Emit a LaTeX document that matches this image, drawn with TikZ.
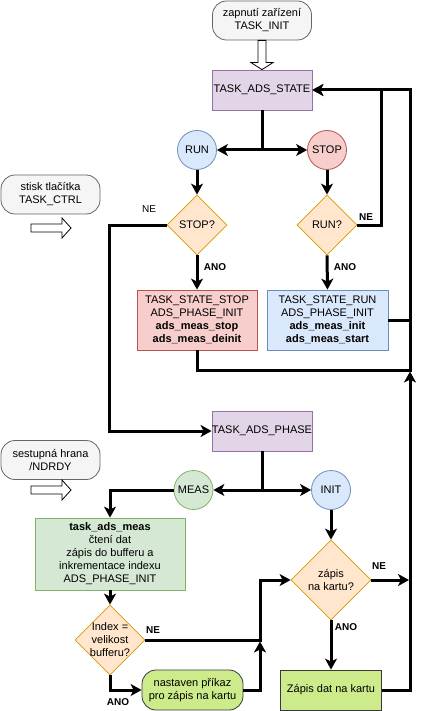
\documentclass[tikz,border=0pt]{standalone}
\usepackage{fontspec}
\setmainfont{Liberation Sans}
\usetikzlibrary{arrows.meta,shapes.geometric,calc}
\definecolor{grayF}{HTML}{F5F5F5}
\definecolor{grayD}{HTML}{666666}
\definecolor{purpF}{HTML}{E1D5E7}
\definecolor{purpD}{HTML}{9673A6}
\definecolor{blueF}{HTML}{DAE8FC}
\definecolor{blueD}{HTML}{6C8EBF}
\definecolor{redF}{HTML}{F8CECC}
\definecolor{redD}{HTML}{B85450}
\definecolor{orF}{HTML}{FFE6CC}
\definecolor{orD}{HTML}{D79B00}
\definecolor{grF}{HTML}{D5E8D4}
\definecolor{grD}{HTML}{82B366}
\definecolor{limeF}{HTML}{CDEB8B}
\definecolor{limeD}{HTML}{36393D}
\begin{document}
\begin{tikzpicture}[x=1pt,y=-1pt,
  every node/.style={font=\fontsize{11}{13}\selectfont, align=center, inner sep=0pt},
  term/.style={rectangle, rounded corners=14pt, draw=grayD, fill=grayF, line width=0.8pt,
               minimum width=99pt, minimum height=39pt},
  phasebox/.style={rectangle, draw=purpD, fill=purpF, line width=0.8pt,
               minimum width=100pt, minimum height=40pt},
  circb/.style={circle, draw=blueD, fill=blueF, line width=0.8pt, minimum size=39pt},
  circr/.style={circle, draw=redD, fill=redF, line width=0.8pt, minimum size=39pt},
  circg/.style={circle, draw=grD, fill=grF, line width=0.8pt, minimum size=39pt},
  dia/.style={diamond, draw=orD, fill=orF, line width=0.8pt},
  limebox/.style={rectangle, draw=limeD, fill=limeF, line width=0.8pt,
               minimum width=101pt, minimum height=40pt},
  conn/.style={line width=3pt, -{Stealth[length=11pt,width=12pt,inset=3pt]}},
  wire/.style={line width=3pt},
  lbl/.style={font=\fontsize{10}{12}\selectfont\bfseries},
  lblr/.style={font=\fontsize{10}{12}\selectfont},
  hollow/.style={draw, fill=white, line width=0.8pt}
]
\fill[white] (0,0) rectangle (420,711);
\useasboundingbox (0,0) rectangle (420,711);

% nodes
\node[term] (init) at (262,20.5) {zapnutí zařízení\\TASK\_INIT};
\node[phasebox] (adsstate) at (262,90) {TASK\_ADS\_STATE};
\node[circb] (run) at (197,150) {RUN};
\node[circr] (stop) at (327,150) {STOP};
\node[dia, minimum width=60pt, minimum height=60pt, label={center:STOP?}] (qstop) at (197,225) {};
\node[dia, minimum width=60pt, minimum height=60pt, label={center:RUN?}] (qrun) at (327,225) {};
\node[rectangle, draw=redD, fill=redF, line width=0.8pt, minimum width=120pt, minimum height=60pt]
  (stopbox) at (197,320) {TASK\_STATE\_STOP\\ADS\_PHASE\_INIT\\\textbf{ads\_meas\_stop}\\\textbf{ads\_meas\_deinit}};
\node[rectangle, draw=blueD, fill=blueF, line width=0.8pt, minimum width=121pt, minimum height=60pt]
  (runbox) at (327.5,320) {TASK\_STATE\_RUN\\ADS\_PHASE\_INIT\\\textbf{ads\_meas\_init}\\\textbf{ads\_meas\_start}};
\node[term] (ctrl) at (50.5,194.5) {stisk tlačítka\\TASK\_CTRL};
\node[term] (ndrdy) at (50.5,460) {sestupná hrana\\/NDRDY};
\node[phasebox] (phase) at (262,431) {TASK\_ADS\_PHASE};
\node[circg] (meas) at (193.5,490) {MEAS};
\node[circb] (initc) at (331,490) {INIT};
\node[rectangle, draw=grD, fill=grF, line width=0.8pt, minimum width=150pt, minimum height=72pt]
  (measbox) at (110,554) {\textbf{task\_ads\_meas}\\čtení dat\\zápis do bufferu a\\inkrementace indexu\\ADS\_PHASE\_INIT};
\node[dia, minimum width=70pt, minimum height=70pt, label={center:Index =\\velikost\\bufferu?}] (qidx) at (110,640) {};
\node[dia, minimum width=80pt, minimum height=80pt, label={center:zápis\\na kartu?}] (qcard) at (331,580) {};
\node[limebox, rounded corners=14pt] (cmd) at (192.5,690) {nastaven příkaz\\pro zápis na kartu};
\node[limebox] (write) at (331,690) {Zápis dat na kartu};

% labels
\node[lblr] (lne1) at (149,209) {NE};
\node[lbl] (lne2) at (366,217) {NE};
\node[lbl] (lano1) at (215,267) {ANO};
\node[lbl] (lano2) at (345,267) {ANO};
\node[lbl] (lne3) at (153,630) {NE};
\node[lbl] (lano3) at (118,702) {ANO};
\node[lbl] (lne4) at (379,566) {NE};
\node[lbl] (lano4) at (346,627) {ANO};

% hollow arrows
\draw[hollow] ($(init.south)+(-4,0)$) -- ($(adsstate.north)+(-4,-7)$) -- ($(adsstate.north)+(-11,-7)$)
  -- (adsstate.north) -- ($(adsstate.north)+(11,-7)$) -- ($(adsstate.north)+(4,-7)$)
  -- ($(init.south)+(4,0)$) -- cycle;
\draw[hollow] (31,224) -- (62,224) -- (62,218) -- (71,228) -- (62,238) -- (62,232) -- (31,232) -- cycle;
\draw[hollow] (31,486) -- (62,486) -- (62,480) -- (71,490) -- (62,500) -- (62,494) -- (31,494) -- cycle;

% connectors
\draw[conn] (adsstate.south) |- (run.east);
\draw[conn] (adsstate.south) |- (stop.west);
\draw[conn] (run.south) -- (qstop.north);
\draw[conn] (stop.south) -- (qrun.north);
\draw[conn] (qstop.west) -- ++(-57,0) |- (phase.west);
\draw[conn] (qrun.east) -- ++(24,0) |- (adsstate.east);
\draw[conn] (qstop.south) -- (stopbox.north);
\draw[conn] (qrun.south) -- (runbox.north);
\draw[conn] (stopbox.south) -- ++(0,20) -| (410,90) -- (adsstate.east);
\draw[wire] (runbox.east) -- (411.5,320);
\draw[conn] (write.east) -| (410,371.5);
\draw[conn] (phase.south) |- (meas.east);
\draw[conn] (phase.south) |- (initc.west);
\draw[conn] (meas.west) -| (measbox.north);
\draw[conn] (initc.south) -- (qcard.north);
\draw[conn] (measbox.south) -- (qidx.north);
\draw[conn] (qidx.east) -| (260,580) -- (qcard.west);
\draw[conn] (qidx.south) |- (cmd.west);
\draw[conn] (cmd.east) -| (260,641.5);
\draw[conn] (qcard.east) -- (409,580);
\draw[conn] (qcard.south) -- (write.north);
\end{tikzpicture}
\end{document}
